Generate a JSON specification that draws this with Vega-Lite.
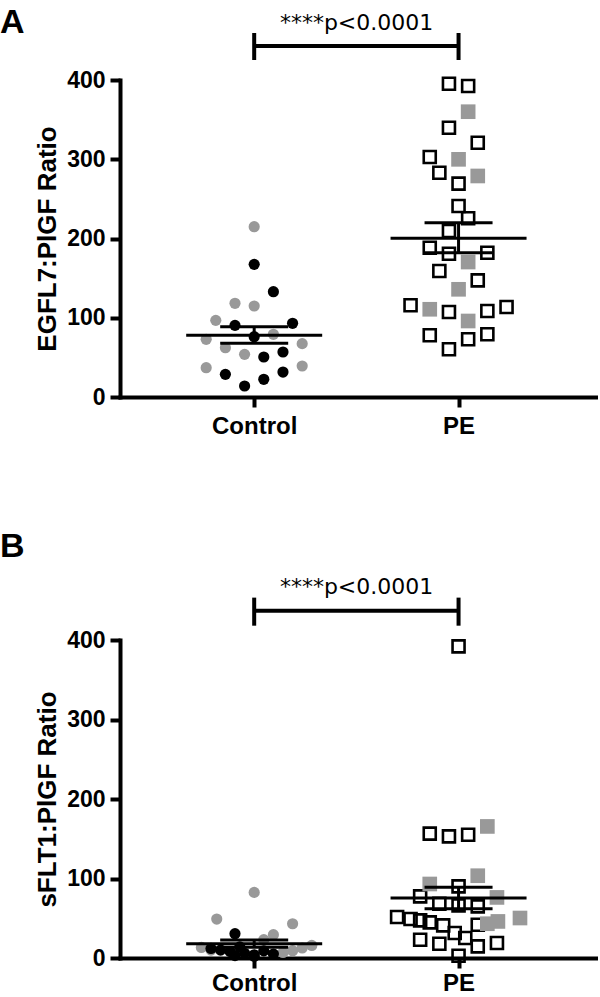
{
  "$schema": "https://vega.github.io/schema/vega-lite/v6.json",
  "padding": {"left": 0, "top": 5, "right": 2, "bottom": 0},
  "background": "white",
  "spacing": 91,
  "config": {
    "font": "Liberation Sans",
    "view": {"stroke": null},
    "axis": {
      "domainColor": "#000", "domainWidth": 4, "domainCap": "square",
      "tickColor": "#000", "tickWidth": 4, "tickSize": 10,
      "labelColor": "#000", "labelFont": "Liberation Sans", "labelFontWeight": "bold", "labelFontSize": 23, "labelPadding": 5,
      "titleColor": "#000", "titleFont": "Liberation Sans", "titleFontWeight": "bold", "titleFontSize": 26,
      "grid": false
    },
    "title": {"font": "Liberation Sans", "fontWeight": "bold", "fontSize": 34, "color": "#000", "anchor": "start", "frame": "group", "baseline": "alphabetic"}
  },
  "datasets": {
    "a_points": [
      {"group": "Control", "subgroup": "S2", "value": 214.9, "col": 0},
      {"group": "Control", "subgroup": "S1", "value": 167.4, "col": 0},
      {"group": "Control", "subgroup": "S1", "value": 132.9, "col": 2},
      {"group": "Control", "subgroup": "S2", "value": 118.2, "col": -2},
      {"group": "Control", "subgroup": "S2", "value": 114.8, "col": 0},
      {"group": "Control", "subgroup": "S2", "value": 96.7, "col": -4},
      {"group": "Control", "subgroup": "S1", "value": 90.4, "col": -2},
      {"group": "Control", "subgroup": "S1", "value": 93.0, "col": 4},
      {"group": "Control", "subgroup": "S1", "value": 76.1, "col": 0},
      {"group": "Control", "subgroup": "S2", "value": 79.1, "col": 2},
      {"group": "Control", "subgroup": "S2", "value": 72.8, "col": -5},
      {"group": "Control", "subgroup": "S2", "value": 67.3, "col": 5},
      {"group": "Control", "subgroup": "S2", "value": 62.2, "col": -3},
      {"group": "Control", "subgroup": "S2", "value": 53.8, "col": -1},
      {"group": "Control", "subgroup": "S1", "value": 50.5, "col": 1},
      {"group": "Control", "subgroup": "S1", "value": 56.8, "col": 3},
      {"group": "Control", "subgroup": "S2", "value": 37.0, "col": -5},
      {"group": "Control", "subgroup": "S2", "value": 39.1, "col": 5},
      {"group": "Control", "subgroup": "S1", "value": 28.6, "col": -3},
      {"group": "Control", "subgroup": "S1", "value": 31.5, "col": 3},
      {"group": "Control", "subgroup": "S1", "value": 22.3, "col": 1},
      {"group": "Control", "subgroup": "S1", "value": 13.9, "col": -1},
      {"group": "PE", "subgroup": "S1", "value": 395.3, "col": -1},
      {"group": "PE", "subgroup": "S1", "value": 392.4, "col": 1},
      {"group": "PE", "subgroup": "S2", "value": 360.0, "col": 1},
      {"group": "PE", "subgroup": "S1", "value": 339.8, "col": -1},
      {"group": "PE", "subgroup": "S1", "value": 320.9, "col": 2},
      {"group": "PE", "subgroup": "S1", "value": 302.8, "col": -3},
      {"group": "PE", "subgroup": "S2", "value": 299.9, "col": 0},
      {"group": "PE", "subgroup": "S1", "value": 283.0, "col": -2},
      {"group": "PE", "subgroup": "S2", "value": 278.9, "col": 2},
      {"group": "PE", "subgroup": "S1", "value": 269.2, "col": 0},
      {"group": "PE", "subgroup": "S1", "value": 241.0, "col": 0},
      {"group": "PE", "subgroup": "S1", "value": 225.5, "col": 1},
      {"group": "PE", "subgroup": "S1", "value": 209.5, "col": -1},
      {"group": "PE", "subgroup": "S1", "value": 188.4, "col": -3},
      {"group": "PE", "subgroup": "S1", "value": 180.8, "col": -1},
      {"group": "PE", "subgroup": "S1", "value": 182.1, "col": 3},
      {"group": "PE", "subgroup": "S2", "value": 170.3, "col": 1},
      {"group": "PE", "subgroup": "S1", "value": 159.0, "col": -2},
      {"group": "PE", "subgroup": "S1", "value": 147.2, "col": 2},
      {"group": "PE", "subgroup": "S2", "value": 135.9, "col": 0},
      {"group": "PE", "subgroup": "S1", "value": 115.7, "col": -5},
      {"group": "PE", "subgroup": "S2", "value": 110.7, "col": -3},
      {"group": "PE", "subgroup": "S1", "value": 107.3, "col": -1},
      {"group": "PE", "subgroup": "S1", "value": 108.5, "col": 3},
      {"group": "PE", "subgroup": "S1", "value": 113.6, "col": 5},
      {"group": "PE", "subgroup": "S2", "value": 95.9, "col": 1},
      {"group": "PE", "subgroup": "S1", "value": 77.9, "col": -3},
      {"group": "PE", "subgroup": "S1", "value": 72.8, "col": 1},
      {"group": "PE", "subgroup": "S1", "value": 79.1, "col": 3},
      {"group": "PE", "subgroup": "S1", "value": 60.2, "col": -1}
    ],
    "b_points": [
      {"group": "Control", "subgroup": "S2", "value": 82.5, "col": 0},
      {"group": "Control", "subgroup": "S2", "value": 49.0, "col": -3.9},
      {"group": "Control", "subgroup": "S2", "value": 43.1, "col": 4},
      {"group": "Control", "subgroup": "S2", "value": 29.3, "col": 2},
      {"group": "Control", "subgroup": "S2", "value": 23.0, "col": 1},
      {"group": "Control", "subgroup": "S2", "value": 13.3, "col": -5.5},
      {"group": "Control", "subgroup": "S2", "value": 15.8, "col": 6},
      {"group": "Control", "subgroup": "S2", "value": 12.6, "col": 5},
      {"group": "Control", "subgroup": "S2", "value": 9.2, "col": 4},
      {"group": "Control", "subgroup": "S2", "value": 7.0, "col": 3},
      {"group": "Control", "subgroup": "S2", "value": 10.0, "col": -4.5},
      {"group": "Control", "subgroup": "S1", "value": 30.6, "col": -2},
      {"group": "Control", "subgroup": "S1", "value": 12.0, "col": -4.5},
      {"group": "Control", "subgroup": "S1", "value": 10.0, "col": -3.5},
      {"group": "Control", "subgroup": "S1", "value": 8.0, "col": -2.5},
      {"group": "Control", "subgroup": "S1", "value": 14.0, "col": -1.5},
      {"group": "Control", "subgroup": "S1", "value": 6.0, "col": -1},
      {"group": "Control", "subgroup": "S1", "value": 4.0, "col": 0},
      {"group": "Control", "subgroup": "S1", "value": 2.0, "col": 0},
      {"group": "Control", "subgroup": "S1", "value": 9.0, "col": 1},
      {"group": "Control", "subgroup": "S1", "value": 5.0, "col": 2},
      {"group": "Control", "subgroup": "S1", "value": 3.0, "col": -2},
      {"group": "PE", "subgroup": "S1", "value": 392.0, "col": 0},
      {"group": "PE", "subgroup": "S1", "value": 156.4, "col": -3},
      {"group": "PE", "subgroup": "S1", "value": 153.0, "col": -1},
      {"group": "PE", "subgroup": "S1", "value": 155.1, "col": 1},
      {"group": "PE", "subgroup": "S2", "value": 165.5, "col": 3},
      {"group": "PE", "subgroup": "S2", "value": 103.5, "col": 2},
      {"group": "PE", "subgroup": "S2", "value": 93.1, "col": -3},
      {"group": "PE", "subgroup": "S1", "value": 90.1, "col": 0},
      {"group": "PE", "subgroup": "S2", "value": 76.2, "col": 4},
      {"group": "PE", "subgroup": "S1", "value": 77.5, "col": -4},
      {"group": "PE", "subgroup": "S1", "value": 68.3, "col": -2},
      {"group": "PE", "subgroup": "S1", "value": 66.2, "col": 0},
      {"group": "PE", "subgroup": "S1", "value": 64.9, "col": 2},
      {"group": "PE", "subgroup": "S1", "value": 51.6, "col": -6.4},
      {"group": "PE", "subgroup": "S1", "value": 49.1, "col": -5},
      {"group": "PE", "subgroup": "S1", "value": 47.3, "col": -4},
      {"group": "PE", "subgroup": "S1", "value": 44.8, "col": -3},
      {"group": "PE", "subgroup": "S1", "value": 41.0, "col": -1.6},
      {"group": "PE", "subgroup": "S2", "value": 43.1, "col": 3},
      {"group": "PE", "subgroup": "S2", "value": 46.0, "col": 4.1},
      {"group": "PE", "subgroup": "S2", "value": 50.3, "col": 6.4},
      {"group": "PE", "subgroup": "S1", "value": 41.9, "col": 2},
      {"group": "PE", "subgroup": "S1", "value": 31.4, "col": -0.4},
      {"group": "PE", "subgroup": "S1", "value": 25.2, "col": 0.7},
      {"group": "PE", "subgroup": "S1", "value": 23.0, "col": -4},
      {"group": "PE", "subgroup": "S1", "value": 18.0, "col": -2},
      {"group": "PE", "subgroup": "S1", "value": 14.6, "col": 2},
      {"group": "PE", "subgroup": "S1", "value": 18.9, "col": 4},
      {"group": "PE", "subgroup": "S1", "value": 2.9, "col": 0}
    ],
    "a_stats": [
      {"group": "Control", "mean": 77.9, "lo": 67.8, "hi": 88.7},
      {"group": "PE", "mean": 200.3, "lo": 182.1, "hi": 219.9}
    ],
    "b_stats": [
      {"group": "Control", "mean": 18.0, "lo": 13.5, "hi": 22.5},
      {"group": "PE", "mean": 75.5, "lo": 62.0, "hi": 89.0}
    ],
    "a_sig": [
      {"group": "Control", "pair": "PE", "bar": 442.9, "lo": 425.2, "hi": 459.3, "labelpos": 462.5, "label": "****p<0.0001"},
      {"group": "PE", "pair": "PE", "bar": 442.9, "lo": 425.2, "hi": 459.3, "labelpos": 462.5, "label": ""}
    ],
    "b_sig": [
      {"group": "Control", "pair": "PE", "bar": 436.9, "lo": 418.0, "hi": 453.3, "labelpos": 458.2, "label": "****p<0.0001"},
      {"group": "PE", "pair": "PE", "bar": 436.9, "lo": 418.0, "hi": 453.3, "labelpos": 458.2, "label": ""}
    ]
  },
  "vconcat": [
    {
      "width": 476,
      "height": 317,
      "title": {"text": "A", "dx": -120, "offset": -27.3},
      "data": {"name": "a_points"},
      "encoding": {
        "x": {"field": "group", "type": "nominal", "title": null,
              "scale": {"type": "point", "domain": ["Control", "PE"], "padding": 0.6646, "align": 0.494},
              "axis": {"labelAngle": 0, "labelFontSize": 24, "labelPadding": 7}},
        "y": {"field": "value", "type": "quantitative", "title": "EGFL7:PlGF Ratio",
              "scale": {"domain": [0, 400], "nice": false},
              "axis": {"values": [0, 100, 200, 300, 400], "titlePadding": 6}}
      },
      "layer": [
        {
          "transform": [{"filter": "datum.group === 'Control'"}],
          "mark": {"type": "point", "shape": "circle", "filled": true, "size": 125, "opacity": 1},
          "encoding": {
            "xOffset": {"field": "col", "type": "quantitative", "scale": {"domain": [-1, 1], "range": [-9.6, 9.6]}},
            "color": {"field": "subgroup", "type": "nominal", "scale": {"domain": ["S1", "S2"], "range": ["#000000", "#999999"]}, "legend": null}
          }
        },
        {
          "transform": [{"filter": "datum.group === 'PE' && datum.subgroup === 'S1'"}],
          "mark": {"type": "point", "shape": "square", "filled": false, "size": 144, "strokeWidth": 2.6, "color": "#000", "opacity": 1},
          "encoding": {
            "xOffset": {"field": "col", "type": "quantitative", "scale": {"domain": [-1, 1], "range": [-9.6, 9.6]}}
          }
        },
        {
          "transform": [{"filter": "datum.group === 'PE' && datum.subgroup === 'S2'"}],
          "mark": {"type": "point", "shape": "square", "filled": true, "size": 215, "color": "#999999", "opacity": 1},
          "encoding": {
            "xOffset": {"field": "col", "type": "quantitative", "scale": {"domain": [-1, 1], "range": [-9.6, 9.6]}}
          }
        },
        {
          "data": {"name": "a_stats"},
          "mark": {"type": "rule", "xOffset": -68, "x2Offset": 68, "strokeWidth": 3, "color": "#000"},
          "encoding": {"x2": {"field": "group"}, "y": {"field": "mean", "type": "quantitative", "title": "EGFL7:PlGF Ratio"}}
        },
        {
          "data": {"name": "a_stats"},
          "mark": {"type": "rule", "xOffset": -34, "x2Offset": 34, "strokeWidth": 3, "color": "#000"},
          "encoding": {"x2": {"field": "group"}, "y": {"field": "hi", "type": "quantitative", "title": "EGFL7:PlGF Ratio"}}
        },
        {
          "data": {"name": "a_stats"},
          "mark": {"type": "rule", "xOffset": -34, "x2Offset": 34, "strokeWidth": 3, "color": "#000"},
          "encoding": {"x2": {"field": "group"}, "y": {"field": "lo", "type": "quantitative", "title": "EGFL7:PlGF Ratio"}}
        },
        {
          "data": {"name": "a_stats"},
          "mark": {"type": "rule", "strokeWidth": 3, "color": "#000"},
          "encoding": {"y": {"field": "lo", "type": "quantitative", "title": "EGFL7:PlGF Ratio"}, "y2": {"field": "hi"}}
        },
        {
          "data": {"name": "a_sig"},
          "transform": [{"filter": "datum.group === 'Control'"}],
          "mark": {"type": "rule", "strokeWidth": 4, "color": "#000", "clip": false},
          "encoding": {"x2": {"field": "pair"}, "y": {"field": "bar", "type": "quantitative", "title": "EGFL7:PlGF Ratio"}}
        },
        {
          "data": {"name": "a_sig"},
          "mark": {"type": "rule", "strokeWidth": 4, "color": "#000", "clip": false},
          "encoding": {"y": {"field": "lo", "type": "quantitative", "title": "EGFL7:PlGF Ratio"}, "y2": {"field": "hi"}}
        },
        {
          "data": {"name": "a_sig"},
          "transform": [{"filter": "datum.group === 'Control'"}],
          "mark": {"type": "text", "fontSize": 22, "font": "DejaVu Sans", "align": "center", "baseline": "alphabetic", "dx": 102.4, "color": "#000", "clip": false},
          "encoding": {"y": {"field": "labelpos", "type": "quantitative", "title": "EGFL7:PlGF Ratio"}, "text": {"field": "label"}}
        }
      ]
    },
    {
      "width": 476,
      "height": 318,
      "title": {"text": "B", "dx": -120, "offset": 12.2},
      "data": {"name": "b_points"},
      "encoding": {
        "x": {"field": "group", "type": "nominal", "title": null,
              "scale": {"type": "point", "domain": ["Control", "PE"], "padding": 0.6646, "align": 0.494},
              "axis": {"labelAngle": 0, "labelFontSize": 24, "labelPadding": 3}},
        "y": {"field": "value", "type": "quantitative", "title": "sFLT1:PlGF Ratio",
              "scale": {"domain": [0, 400], "nice": false},
              "axis": {"values": [0, 100, 200, 300, 400], "titlePadding": 6}}
      },
      "layer": [
        {
          "transform": [{"filter": "datum.group === 'Control'"}],
          "mark": {"type": "point", "shape": "circle", "filled": true, "size": 125, "opacity": 1},
          "encoding": {
            "xOffset": {"field": "col", "type": "quantitative", "scale": {"domain": [-1, 1], "range": [-9.6, 9.6]}},
            "color": {"field": "subgroup", "type": "nominal", "scale": {"domain": ["S1", "S2"], "range": ["#000000", "#999999"]}, "legend": null}
          }
        },
        {
          "transform": [{"filter": "datum.group === 'PE' && datum.subgroup === 'S1'"}],
          "mark": {"type": "point", "shape": "square", "filled": false, "size": 144, "strokeWidth": 2.6, "color": "#000", "opacity": 1},
          "encoding": {
            "xOffset": {"field": "col", "type": "quantitative", "scale": {"domain": [-1, 1], "range": [-9.6, 9.6]}}
          }
        },
        {
          "transform": [{"filter": "datum.group === 'PE' && datum.subgroup === 'S2'"}],
          "mark": {"type": "point", "shape": "square", "filled": true, "size": 215, "color": "#999999", "opacity": 1},
          "encoding": {
            "xOffset": {"field": "col", "type": "quantitative", "scale": {"domain": [-1, 1], "range": [-9.6, 9.6]}}
          }
        },
        {
          "data": {"name": "b_stats"},
          "mark": {"type": "rule", "xOffset": -68, "x2Offset": 68, "strokeWidth": 3, "color": "#000"},
          "encoding": {"x2": {"field": "group"}, "y": {"field": "mean", "type": "quantitative", "title": "sFLT1:PlGF Ratio"}}
        },
        {
          "data": {"name": "b_stats"},
          "mark": {"type": "rule", "xOffset": -34, "x2Offset": 34, "strokeWidth": 3, "color": "#000"},
          "encoding": {"x2": {"field": "group"}, "y": {"field": "hi", "type": "quantitative", "title": "sFLT1:PlGF Ratio"}}
        },
        {
          "data": {"name": "b_stats"},
          "mark": {"type": "rule", "xOffset": -34, "x2Offset": 34, "strokeWidth": 3, "color": "#000"},
          "encoding": {"x2": {"field": "group"}, "y": {"field": "lo", "type": "quantitative", "title": "sFLT1:PlGF Ratio"}}
        },
        {
          "data": {"name": "b_stats"},
          "mark": {"type": "rule", "strokeWidth": 3, "color": "#000"},
          "encoding": {"y": {"field": "lo", "type": "quantitative", "title": "sFLT1:PlGF Ratio"}, "y2": {"field": "hi"}}
        },
        {
          "data": {"name": "b_sig"},
          "transform": [{"filter": "datum.group === 'Control'"}],
          "mark": {"type": "rule", "strokeWidth": 4, "color": "#000", "clip": false},
          "encoding": {"x2": {"field": "pair"}, "y": {"field": "bar", "type": "quantitative", "title": "sFLT1:PlGF Ratio"}}
        },
        {
          "data": {"name": "b_sig"},
          "mark": {"type": "rule", "strokeWidth": 4, "color": "#000", "clip": false},
          "encoding": {"y": {"field": "lo", "type": "quantitative", "title": "sFLT1:PlGF Ratio"}, "y2": {"field": "hi"}}
        },
        {
          "data": {"name": "b_sig"},
          "transform": [{"filter": "datum.group === 'Control'"}],
          "mark": {"type": "text", "fontSize": 22, "font": "DejaVu Sans", "align": "center", "baseline": "alphabetic", "dx": 102.4, "color": "#000", "clip": false},
          "encoding": {"y": {"field": "labelpos", "type": "quantitative", "title": "sFLT1:PlGF Ratio"}, "text": {"field": "label"}}
        }
      ]
    }
  ]
}
